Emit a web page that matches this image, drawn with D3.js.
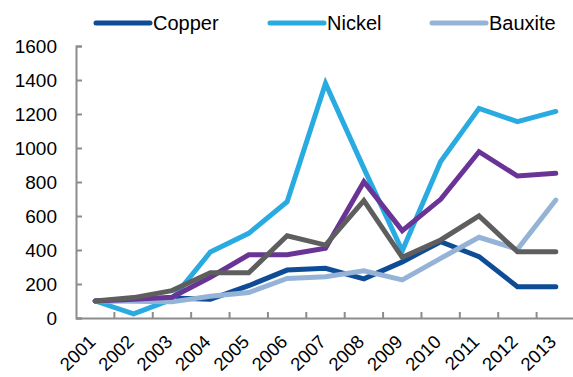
<!DOCTYPE html>
<html>
<head>
<meta charset="utf-8">
<script src="https://cdn.jsdelivr.net/npm/d3@7"></script>
<style>
  html, body { margin: 0; padding: 0; background: #fff; }
  svg { display: block; }
  text { font-family: "Liberation Sans", Arial, sans-serif; fill: #000; }
</style>
</head>
<body>
<svg id="chart" width="573" height="377"></svg>
<script>
const years = ["2001","2002","2003","2004","2005","2006","2007","2008","2009","2010","2011","2012","2013"];
const copper  = [100, 105, 118, 110, 190, 282, 292, 230, 330, 449, 361, 184, 184];
const nickel  = [100, 25, 110, 388, 498, 684, 1380, 880, 395, 920, 1233, 1155, 1215];
const bauxite = [100, 98, 95, 128, 150, 233, 243, 278, 224, 351, 475, 404, 694];
const series4 = [100, 110, 122, 240, 372, 372, 410, 802, 514, 698, 978, 835, 851];
const series5 = [100, 120, 161, 266, 266, 484, 429, 690, 357, 459, 600, 390, 390];
const yTicks  = [0, 200, 400, 600, 800, 1000, 1200, 1400, 1600];

const seriesNames  = ["Copper", "Nickel", "Bauxite", "Series 4", "Series 5"];
const seriesValues = [copper, nickel, bauxite, series4, series5];
const seriesColors = ["#0e4c96", "#29abe2", "#95b3d7", "#6a3396", "#5e5e5e"];
const legendNames  = ["Copper", "Nickel", "Bauxite"];

const svg = d3.select("#chart");
const mLeft = 76, mRight = 575, mTop = 46, mBottom = 318;

const x = d3.scaleBand().domain(years).range([mLeft, mRight]);
const y = d3.scaleLinear().domain([0, 1600]).range([mBottom, mTop]);
const axisColor = "#8c8c8c";

// y axis
const yAxis = svg.append("g").attr("transform", `translate(${mLeft},0)`)
  .call(d3.axisLeft(y).tickValues(yTicks).tickSize(-6).tickPadding(19).tickFormat(d3.format("d")));
yAxis.select(".domain").attr("stroke", axisColor).attr("stroke-width", 2);
yAxis.selectAll(".tick line").attr("stroke", axisColor).attr("stroke-width", 2);
yAxis.selectAll(".tick text").attr("font-size", 19).attr("font-family", "Liberation Sans, Arial, sans-serif")
  .attr("fill", "#000");

// x axis
const xAxis = svg.append("g").attr("transform", `translate(0,${mBottom})`)
  .call(d3.axisBottom(x).tickSize(0).tickFormat(""));
xAxis.select(".domain").attr("stroke", axisColor).attr("stroke-width", 2);
// tick marks on category boundaries
svg.append("g").selectAll("line").data(years.slice(1)).join("line")
  .attr("x1", d => x(d)).attr("x2", d => x(d))
  .attr("y1", mBottom).attr("y2", mBottom - 6)
  .attr("stroke", axisColor).attr("stroke-width", 2);
// x labels
svg.append("g").selectAll("text").data(years).join("text")
  .attr("transform", d => `translate(${x(d) + x.bandwidth() / 2 + 1.5},${mBottom + 25}) rotate(-45)`)
  .attr("text-anchor", "end")
  .attr("font-size", 18.5)
  .text(d => d);

// lines
const line = d3.line()
  .x((d, i) => x(years[i]) + x.bandwidth() / 2)
  .y(d => y(d));
svg.append("g").selectAll("path").data(seriesValues).join("path")
  .attr("d", d => line(d))
  .attr("fill", "none")
  .attr("stroke", (d, i) => seriesColors[i])
  .attr("stroke-width", 5)
  .attr("stroke-linejoin", "miter")
  .attr("stroke-linecap", "round");

// legend
const legendX = [96, 270, 432];
const lg = svg.append("g").selectAll("g").data(legendNames).join("g")
  .attr("transform", (d, i) => `translate(${legendX[i]},23)`);
lg.append("line").attr("x1", 0).attr("x2", 54).attr("y1", 0).attr("y2", 0)
  .attr("stroke", (d, i) => seriesColors[i]).attr("stroke-width", 5).attr("stroke-linecap", "round");
lg.append("text").attr("x", 57).attr("y", 7).attr("font-size", 20).text(d => d);
</script>
</body>
</html>
